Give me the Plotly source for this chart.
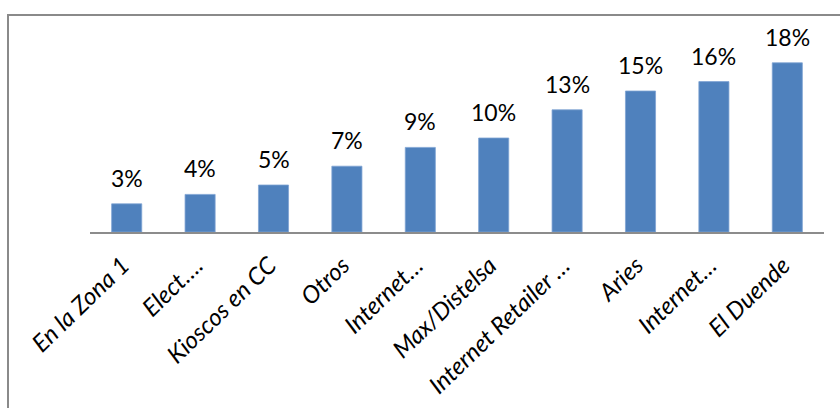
import plotly.graph_objects as go

categories = ["En la Zona 1", "Elect….", "Kioscos en CC", "Otros", "Internet…",
              "Max/Distelsa", "Internet Retailer …", "Aries", "Internet…", "El Duende"]
values = [3, 4, 5, 7, 9, 10, 13, 15, 16, 18]
labels = ["3%", "4%", "5%", "7%", "9%", "10%", "13%", "15%", "16%", "18%"]

x_idx = list(range(len(categories)))

W, H = 840, 408
L, R, T, B = 90, 16, 44, 176
plot_w = W - L - R
plot_h = H - T - B

fig = go.Figure()
fig.add_trace(go.Bar(
    x=x_idx, y=values,
    marker=dict(color="#4F81BD", line=dict(color="#7FA3D3", width=0.8)),
    width=0.41,
    hoverinfo="skip",
))

for xi, v, t in zip(x_idx, values, labels):
    fig.add_annotation(x=xi, y=v, text=t, showarrow=False, yanchor="bottom",
                       yshift=10, font=dict(family="Lato", size=23, color="#000000"))

# outer chart border (extends beyond the visible image on right/bottom)
fx = lambda px: (px - L) / plot_w
fy = lambda py: (H - B - py) / plot_h
fig.add_shape(type="rect", xref="paper", yref="paper",
              x0=fx(8), x1=fx(900), y0=fy(460), y1=fy(15),
              line=dict(color="#8a8a8a", width=2), fillcolor="rgba(0,0,0,0)", layer="below")

fig.update_layout(
    width=W, height=H,
    margin=dict(l=L, r=R, t=T, b=B, pad=0, autoexpand=False),
    paper_bgcolor="white", plot_bgcolor="white",
    showlegend=False,
    xaxis=dict(
        tickmode="array", tickvals=x_idx, ticktext=categories,
        range=[-0.5, len(categories) - 0.5],
        tickangle=-44,
        ticklabelstandoff=8,
        ticklabelshift=-4,
        automargin=False,
        tickfont=dict(family="Lato", size=24, color="#000000", style="italic"),
        showline=True, linecolor="#8c8c8c", linewidth=2,
        ticks="", showgrid=False, zeroline=False,
    ),
    yaxis=dict(range=[0, 20], visible=False, showgrid=False, zeroline=False),
)

fig.write_html("out.html")
